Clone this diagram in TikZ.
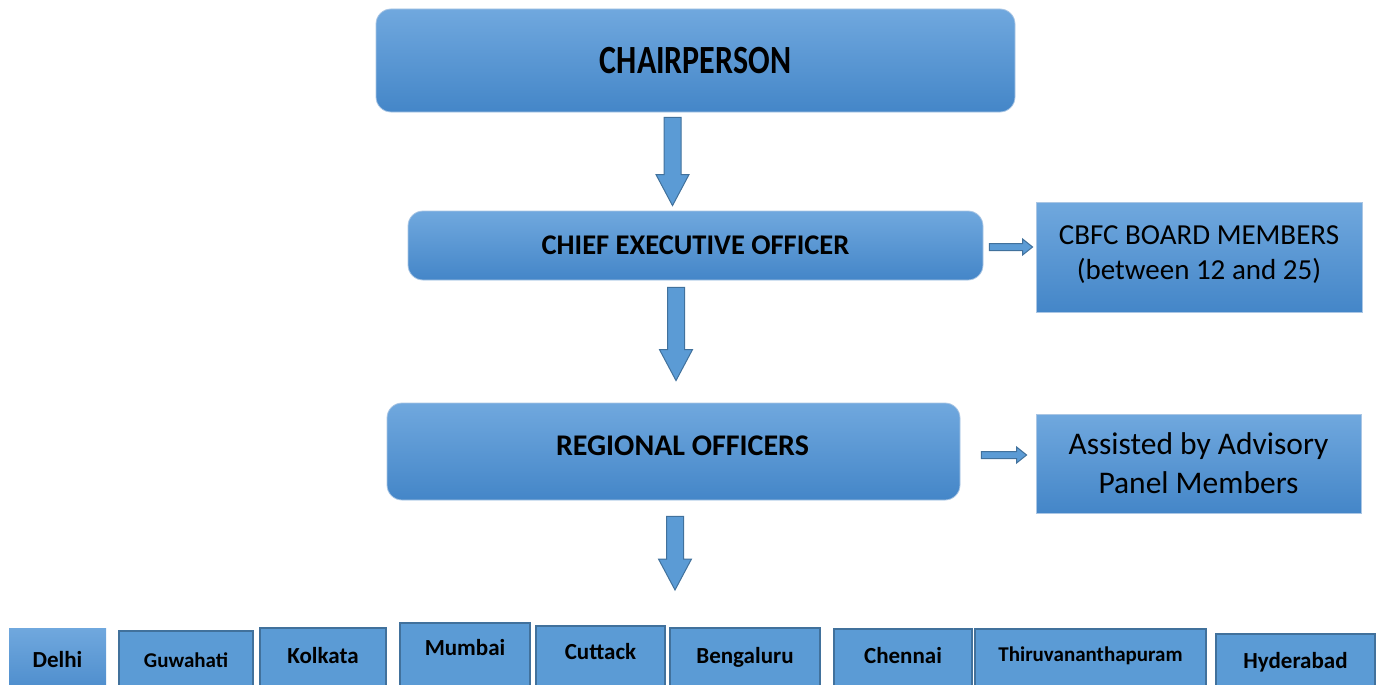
\documentclass[tikz,border=0pt]{standalone}
\usepackage{fontspec}
\setmainfont{Carlito}
\usepackage{graphicx}
\usetikzlibrary{calc}

\definecolor{boxtop}{RGB}{112,168,222}
\definecolor{boxbot}{RGB}{68,134,200}
\definecolor{boxedge}{RGB}{170,198,228}
\definecolor{cityfill}{RGB}{91,155,213}
\definecolor{cityedge}{RGB}{65,113,156}

\tikzset{
  rolebox/.style={rounded corners=15, top color=boxtop, bottom color=boxbot,
    draw=boxedge, line width=0.8, inner sep=0, font=\bfseries},
  sidebox/.style={top color=boxtop, bottom color=boxbot, draw=boxedge,
    line width=0.8, inner sep=0, align=center},
  city/.style={fill=cityfill, draw=cityedge, line width=2, anchor=north,
    inner sep=0, text depth=40, font={\fontsize{23}{28}\selectfont\bfseries}},
  blkarrow/.style={fill=cityfill, draw=cityedge, line width=1},
}

% block arrows between two points (start, tip)
\newcommand{\blkdown}[2]{%
  \filldraw[blkarrow] let \p1=#1, \p2=#2 in
    ({\x2-8.5pt},\y1) -- ({\x2+8.5pt},\y1) -- ({\x2+8.5pt},{\y2+31pt})
    -- ({\x2+16.5pt},{\y2+31pt}) -- (\x2,\y2) -- ({\x2-16.5pt},{\y2+31pt})
    -- ({\x2-8.5pt},{\y2+31pt}) -- cycle;}
\newcommand{\blkright}[2]{%
  \filldraw[blkarrow] let \p1=#1, \p2=#2 in
    (\x1,{\y1+3.5pt}) -- ({\x2-10pt},{\y1+3.5pt}) -- ({\x2-10pt},{\y1+8pt})
    -- (\x2,\y1) -- ({\x2-10pt},{\y1-8pt}) -- ({\x2-10pt},{\y1-3.5pt})
    -- (\x1,{\y1-3.5pt}) -- cycle;}

\begin{document}
\begin{tikzpicture}[x=1pt,y=-1pt]
  \useasboundingbox (0,0) rectangle (1382,685);
  \clip (0,0) rectangle (1382,685);

  % Hierarchy boxes
  \node[rolebox, minimum width=639, minimum height=103,
        font={\fontsize{40}{48}\selectfont\bfseries}] (chair) at (695.5,60.5)
        {\scalebox{0.8}[1]{CHAIRPERSON}};
  \node[rolebox, minimum width=575, minimum height=69,
        font={\fontsize{28.5}{34}\selectfont\bfseries}] (ceo) at (695.5,245.5)
        {CHIEF EXECUTIVE OFFICER};
  \node[rolebox, minimum width=573, text height=52, text depth=45,
        font={\fontsize{30}{36}\selectfont\bfseries}] (ro) at (673.5,451.5)
        {\hspace*{18pt}REGIONAL OFFICERS};

  % Side boxes
  \node[sidebox, minimum width=326, minimum height=110,
        font={\fontsize{29}{35}\selectfont}] (cbfc) at (1199,257)
        {CBFC BOARD MEMBERS\\(between 12 and 25)\\[-27pt]\mbox{}};
  \node[sidebox, minimum width=325, minimum height=99,
        font={\fontsize{31.5}{39}\selectfont}] (assist) at (1198.5,463.5)
        {Assisted by Advisory\\Panel Members};

  % Regional offices
  \node[city, draw=none, top color=boxtop, bottom color=boxbot,
        minimum width=97, text height=39] (delhi) at (57.5,627) {Delhi};
  \node[city, minimum width=134, text height=36,
        font={\fontsize{21}{26}\selectfont\bfseries}] (guwahati) at (186,630) {Guwahati};
  \node[city, minimum width=126, text height=35] (kolkata) at (323,627) {Kolkata};
  \node[city, minimum width=130, text height=32] (mumbai) at (465,622) {Mumbai};
  \node[city, minimum width=129, text height=33] (cuttack) at (600.5,625) {Cuttack};
  \node[city, minimum width=150, text height=35] (bengaluru) at (745,627) {Bengaluru};
  \node[city, minimum width=138, text height=34] (chennai) at (903,628) {Chennai};
  \node[city, minimum width=231, text height=32,
        font={\fontsize{21}{25}\selectfont\bfseries}] (thiru) at (1090.5,628) {Thiruvananthapuram};
  \node[city, minimum width=159, text height=34] (hyderabad) at (1295.5,633) {Hyderabad};

  \coordinate (cityrow) at (675,590);

  % Arrows
  \blkdown{($(chair.south)+(-23,5)$)}{($(ceo.north)+(-23,-5)$)}
  \blkdown{($(ceo.south)+(-19.5,7)$)}{($(ro.north)+(2.5,-22)$)}
  \blkdown{($(ro.south)+(1.5,16)$)}{(cityrow)}
  \blkright{($(ceo.east)+(6,1.5)$)}{($(cbfc.west)+(-3,0)$)}
  \blkright{($(ro.east)+(21,3.5)$)}{($(assist.west)+(-9,0)$)}
\end{tikzpicture}
\end{document}
